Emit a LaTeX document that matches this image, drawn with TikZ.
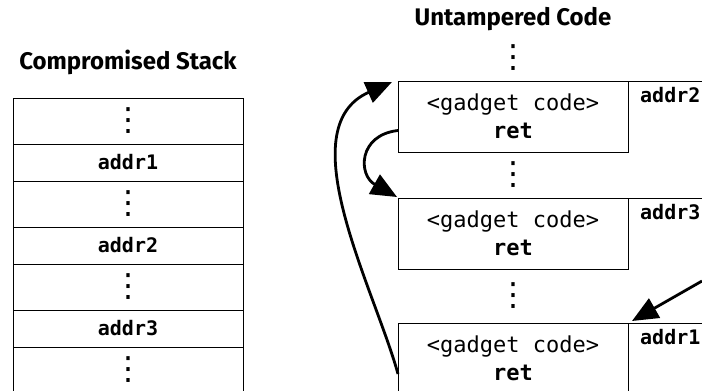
\documentclass[tikz,border=0pt]{standalone}
\usepackage{fontspec}
\setmainfont{Fira Sans}
\setmonofont{DejaVu Sans Mono}
\newfontfamily\dotsfont{DejaVu Sans}
\usetikzlibrary{arrows.meta,positioning,calc}
\tikzstyle{cell}=[rectangle,draw,line width=1pt,minimum width=230pt,minimum height=37pt,inner sep=0pt,outer sep=0pt,font=\fontsize{20}{20}\selectfont\ttfamily\bfseries]
\tikzstyle{dotcell}=[cell,minimum height=46pt]
\tikzstyle{gadget}=[rectangle,draw,line width=1pt,minimum width=230pt,minimum height=71pt,inner sep=0pt,outer sep=0pt,align=center,font=\fontsize{22}{28}\selectfont\ttfamily]
\tikzstyle{addr}=[anchor=base west,inner sep=0pt,font=\fontsize{20}{20}\selectfont\ttfamily\bfseries]
\tikzstyle{title}=[anchor=base,inner sep=0pt,font=\fontsize{24}{24}\selectfont\bfseries]
\tikzstyle{dots}=[inner sep=0pt]
\tikzstyle{jump}=[line width=2.8pt,-{Triangle[length=26pt,width=22pt]}]
\newcommand{\stackdots}{{\dotsfont\mdseries\fontsize{32}{32}\selectfont ⋮}}

\begin{document}
\begin{tikzpicture}[x=1pt,y=-1pt]
  \useasboundingbox (0,0) rectangle (702,391);
  % stack on the left
  \node[title] (stacktitle) at (128,69) {Compromised Stack};
  \node[dotcell] (s0) at (128,121) {\stackdots};
  \node[cell,below=0pt of s0] (s1) {addr1};
  \node[dotcell,below=0pt of s1] (s2) {\stackdots};
  \node[cell,below=0pt of s2] (s3) {addr2};
  \node[dotcell,below=0pt of s3] (s4) {\stackdots};
  \node[cell,below=0pt of s4] (s5) {addr3};
  \node[dotcell,below=0pt of s5] (s6) {\stackdots};
  % code on the right
  \node[title] (codetitle) at (513,25) {Untampered Code};
  \node[gadget] (b1) at (513,116.5) {<gadget code>\\\textbf{ret}};
  \node[gadget,below=46pt of b1] (b2) {<gadget code>\\\textbf{ret}};
  \node[gadget,below=54pt of b2] (b3) {<gadget code>\\\textbf{ret}};
  \node[dots] (d0) at (513,58) {\stackdots};
  \node[dots] (d1) at ($(b1.south)!0.5!(b2.north)$) {\stackdots};
  \node[dots] (d2) at ($(b2.south)!0.5!(b3.north)$) {\stackdots};
  \coordinate (edge) at (702,0);
  \draw[line width=1pt] (b1.north east) -- (b1.north east -| edge);
  \draw[line width=1pt] (b2.north east) -- (b2.north east -| edge);
  \draw[line width=1pt] (b3.north east) -- (b3.north east -| edge);
  \node[addr] (a2) at ([xshift=12pt,yshift=-21pt]b1.north east) {addr2};
  \node[addr] (a3) at ([xshift=12pt,yshift=-21pt]b2.north east) {addr3};
  \node[addr] (a1) at ([xshift=12pt,yshift=-21pt]b3.north east) {addr1};
  % jumps
  \coordinate (entry) at (702,281);
  \draw[jump] (entry) -- ([xshift=4pt,yshift=2pt]b3.north east);
  \draw[jump] ([yshift=-15.5pt]b3.west) .. controls (375,290) and (288,128) .. ([xshift=-6pt,yshift=-1pt]b1.north west);
  \draw[jump] ([yshift=-14pt]b1.west) .. controls (358,135) and (358,175) .. ([xshift=-1pt,yshift=1pt]b2.north west);
\end{tikzpicture}
\end{document}
